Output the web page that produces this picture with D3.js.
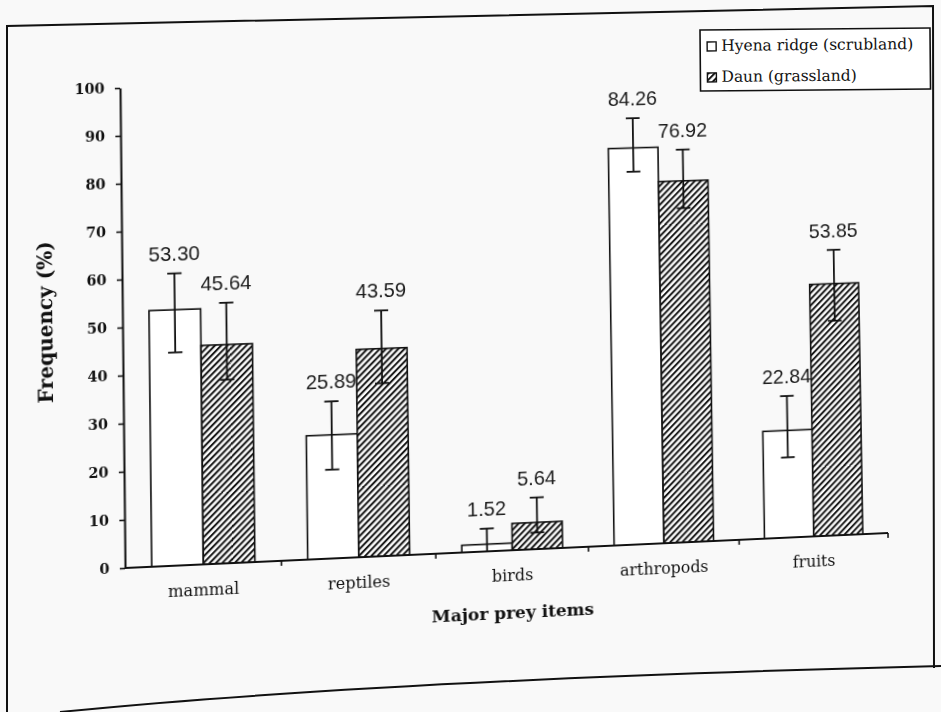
<!DOCTYPE html>
<html>
<head>
<meta charset="utf-8">
<script src="https://cdn.jsdelivr.net/npm/d3@7"></script>
<style>
  body { margin: 0; background: #f9f9f9; }
  #chart { position: relative; width: 941px; height: 712px; overflow: hidden; }
  #chart svg { position: absolute; left: 0; top: 0; overflow: visible; }
</style>
</head>
<body>
<div id="chart"></div>
<script>
// data
const categories = ["mammal", "reptiles", "birds", "arthropods", "fruits"];
const seriesNames = ["Hyena ridge (scrubland)", "Daun (grassland)"];
const hyenaValues = [53.30, 25.89, 1.52, 84.26, 22.84];
const daunValues = [45.64, 43.59, 5.64, 76.92, 53.85];
// error bar ends
const hyenaErrHigh = [60.9, 32.9, 4.8, 90.6, 30.2];
const hyenaErrLow = [44.4, 18.6, 0, 79.2, 17.1];
const daunErrHigh = [54.4, 51.6, 10.9, 83.6, 61.1];
const daunErrLow = [38.3, 36.3, 3.5, 71.1, 45.9];
const yTicks = [0, 10, 20, 30, 40, 50, 60, 70, 80, 90, 100];

const serif = "'DejaVu Serif', serif";
const sans = "'Liberation Sans', Arial, sans-serif";

const width = 941, height = 712;
const plotW = 763, plotH = 480;
const margin = {left: 150, top: 100};

// one row per bar
const bars = [];
categories.forEach((c, i) => {
    bars.push({cat: c, s: 0, value: hyenaValues[i], hi: hyenaErrHigh[i], lo: hyenaErrLow[i]});
    bars.push({cat: c, s: 1, value: daunValues[i], hi: daunErrHigh[i], lo: daunErrLow[i]});
});

function addHatch(svg, id) {
    const p = svg.append("defs").append("pattern")
        .attr("id", id)
        .attr("patternUnits", "userSpaceOnUse")
        .attr("width", 4.5)
        .attr("height", 4.5)
        .attr("patternTransform", "rotate(45)");
    p.append("rect").attr("width", 4.5).attr("height", 4.5).attr("fill", "#fff");
    p.append("line")
        .attr("x1", 1).attr("y1", 0).attr("x2", 1).attr("y2", 4.5)
        .attr("stroke", "#111").attr("stroke-width", 2);
}

// background layer: page frame and legend, in photo coordinates
const back = d3.select("#chart")
    .append("svg")
    .attr("width", width)
    .attr("height", height);
addHatch(back, "hatchB");

const frame = back.append("g").attr("fill", "none").attr("stroke", "#111").attr("stroke-width", 2);
frame.append("path").attr("d", "M7,712 L7,26 L933,6 L934,668");
frame.append("path").attr("d", "M60,712 Q380,680 941,666");

const legend = back.append("g").attr("transform", "translate(700,30) rotate(-0.5)");
legend.append("rect")
    .attr("width", 230).attr("height", 61)
    .attr("fill", "#fff")
    .attr("stroke", "#111").attr("stroke-width", 1.6);
const item = legend.selectAll(".item")
    .data(seriesNames)
    .enter()
    .append("g")
    .attr("class", "item")
    .attr("transform", (d, i) => `translate(7,${12 + i * 31})`);
item.append("rect")
    .attr("width", 9).attr("height", 9)
    .attr("fill", (d, i) => i === 0 ? "#fff" : "url(#hatchB)")
    .attr("stroke", "#111").attr("stroke-width", 1.4);
item.append("text")
    .attr("x", 14)
    .attr("y", 9)
    .style("font-family", serif)
    .style("font-size", "15.5px")
    .style("fill", "#111")
    .text(d => d);

// chart layer, drawn flat and then warped like the photographed page
const svg = d3.select("#chart")
    .append("svg")
    .attr("width", 1000)
    .attr("height", 700);
addHatch(svg, "hatch");

// corners of the plot area: flat -> where they sit in the photo
const src = [[0, 0], [0, plotH], [plotW, plotH], [plotW, 0]]
    .map(p => [p[0] + margin.left, p[1] + margin.top]);
const dst = [[120, 88], [125, 568], [888, 533], [880, 67.5]];

function homography(src, dst) {
    const A = [], b = [];
    for (let i = 0; i < 4; i++) {
        const [x, y] = src[i], [u, v] = dst[i];
        A.push([x, y, 1, 0, 0, 0, -u * x, -u * y]); b.push(u);
        A.push([0, 0, 0, x, y, 1, -v * x, -v * y]); b.push(v);
    }
    const n = 8;
    for (let c = 0; c < n; c++) {
        let p = c;
        for (let r = c + 1; r < n; r++) if (Math.abs(A[r][c]) > Math.abs(A[p][c])) p = r;
        [A[c], A[p]] = [A[p], A[c]];
        [b[c], b[p]] = [b[p], b[c]];
        for (let r = 0; r < n; r++) {
            if (r === c) continue;
            const f = A[r][c] / A[c][c];
            for (let k = c; k < n; k++) A[r][k] -= f * A[c][k];
            b[r] -= f * b[c];
        }
    }
    return b.map((v, i) => v / A[i][i]);
}
const h = homography(src, dst);
svg.style("transform-origin", "0 0")
    .style("transform", `matrix3d(${h[0]},${h[3]},0,${h[6]},${h[1]},${h[4]},0,${h[7]},0,0,1,0,${h[2]},${h[5]},0,1)`);

const plot = svg.append("g")
    .attr("transform", `translate(${margin.left},${margin.top})`);

const x = d3.scaleBand()
    .domain(categories)
    .range([0, plotW])
    .paddingInner(0.34)
    .paddingOuter(0.17);
const xs = d3.scaleBand()
    .domain([0, 1])
    .range([0, x.bandwidth()]);
const y = d3.scaleLinear()
    .domain([0, 100])
    .range([plotH, 0]);

// bars
plot.selectAll(".bar")
    .data(bars)
    .enter()
    .append("rect")
    .attr("class", "bar")
    .attr("x", d => x(d.cat) + xs(d.s))
    .attr("y", d => y(d.value))
    .attr("width", xs.bandwidth())
    .attr("height", d => y(0) - y(d.value))
    .attr("fill", d => d.s === 0 ? "#fff" : "url(#hatch)")
    .attr("stroke", "#111")
    .attr("stroke-width", 1.6);

// error bars
const capW = 7;
const err = plot.selectAll(".err")
    .data(bars)
    .enter()
    .append("g")
    .attr("class", "err")
    .attr("stroke", "#111")
    .attr("stroke-width", 1.8)
    .attr("transform", d => `translate(${x(d.cat) + xs(d.s) + xs.bandwidth() / 2},0)`);
err.append("line").attr("y1", d => y(d.hi)).attr("y2", d => y(d.lo));
err.append("line").attr("x1", -capW).attr("x2", capW).attr("y1", d => y(d.hi)).attr("y2", d => y(d.hi));
err.append("line").attr("x1", -capW).attr("x2", capW).attr("y1", d => y(d.lo)).attr("y2", d => y(d.lo));

// value labels
plot.selectAll(".val")
    .data(bars)
    .enter()
    .append("text")
    .attr("class", "val")
    .attr("x", d => x(d.cat) + xs(d.s) + xs.bandwidth() / 2)
    .attr("y", d => y(d.hi) - 13)
    .attr("text-anchor", "middle")
    .style("font-family", sans)
    .style("font-size", "20px")
    .style("fill", "#1a1a1a")
    .text(d => d.value.toFixed(2));

// y axis
const yAxis = plot.append("g")
    .call(d3.axisLeft(y).tickValues(yTicks).tickSize(5).tickSizeOuter(0).tickPadding(10));
yAxis.select(".domain").attr("stroke", "#111").attr("stroke-width", 2);
yAxis.selectAll(".tick line").attr("stroke", "#111").attr("stroke-width", 1.6);
yAxis.selectAll(".tick text")
    .style("font-family", serif)
    .style("font-size", "14px")
    .style("font-weight", "bold")
    .style("fill", "#111");

// x axis: base line plus ticks between the groups
const xAxis = plot.append("g").attr("transform", `translate(0,${plotH})`);
xAxis.append("line")
    .attr("x1", 0).attr("x2", plotW)
    .attr("stroke", "#111").attr("stroke-width", 2);
xAxis.selectAll(".sep")
    .data(categories)
    .enter()
    .append("line")
    .attr("class", "sep")
    .attr("x1", (d, i) => (i + 1) * x.step())
    .attr("x2", (d, i) => (i + 1) * x.step())
    .attr("y1", 0).attr("y2", 5)
    .attr("stroke", "#111").attr("stroke-width", 1.6);
xAxis.selectAll(".cat")
    .data(categories)
    .enter()
    .append("text")
    .attr("class", "cat")
    .attr("x", d => x(d) + x.bandwidth() / 2)
    .attr("y", 31)
    .attr("text-anchor", "middle")
    .style("font-family", serif)
    .style("font-size", "16px")
    .style("fill", "#111")
    .text(d => d);

// axis titles
plot.append("text")
    .attr("x", plotW / 2)
    .attr("y", plotH + 69)
    .attr("text-anchor", "middle")
    .style("font-family", serif)
    .style("font-size", "17px")
    .style("font-weight", "bold")
    .style("fill", "#111")
    .text("Major prey items");

plot.append("text")
    .attr("transform", `translate(-68,${plotH / 2 - 8}) rotate(-90)`)
    .attr("text-anchor", "middle")
    .style("font-family", serif)
    .style("font-size", "20px")
    .style("font-weight", "bold")
    .style("fill", "#111")
    .text("Frequency (%)");
</script>
</body>
</html>
